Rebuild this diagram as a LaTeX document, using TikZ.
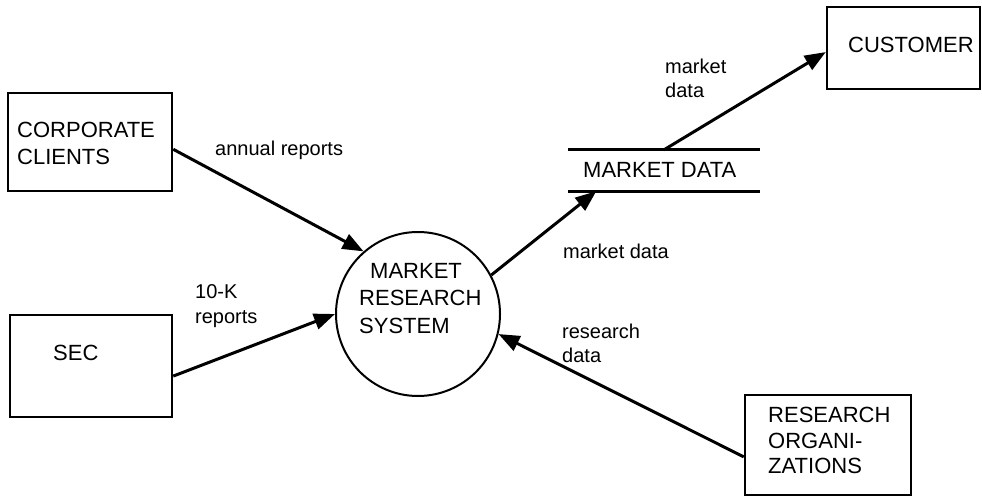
\documentclass[tikz,border=0pt]{standalone}
\usepackage{fontspec}
\setmainfont{Liberation Sans}
\usetikzlibrary{arrows.meta}
\begin{document}
\begin{tikzpicture}[x=1pt,y=-1pt,
  ext/.style={draw,line width=2.5pt,inner sep=0pt},
  nodetext/.style={inner sep=0pt,anchor=north west,align=left,font=\fontsize{22}{26.5}\selectfont},
  lbl/.style={inner sep=0pt,anchor=north west,align=left,font=\fontsize{20}{24.5}\selectfont},
  flow/.style={line width=3pt,-{Triangle[length=21pt,width=16pt]}}]
\useasboundingbox (0,0) rectangle (982,497);
% external entities
\node[ext,minimum width=164pt,minimum height=98pt] (cc) at (90,142) {};
\node[ext,minimum width=162pt,minimum height=102pt] (sec) at (91,366) {};
\node[ext,minimum width=153pt,minimum height=82pt] (cust) at (903.5,48) {};
\node[ext,minimum width=166pt,minimum height=100pt] (ro) at (828,445) {};
% process
\node[draw,circle,line width=2pt,minimum size=164pt,inner sep=0pt] (mrs) at (418,314) {};
% data store
\node[inner sep=0pt,minimum width=192pt,minimum height=41pt] (store) at (664,170.5) {};
\draw[line width=3pt] (store.north west) -- (store.north east);
\draw[line width=3pt] (store.south west) -- (store.south east);
% texts
\node[nodetext] (tcc) at (17,122) {CORPORATE\\CLIENTS};
\node[nodetext] (tsec) at (53,345) {SEC};
\node[nodetext] (tcust) at (848,37) {CUSTOMER};
\node[nodetext,font=\fontsize{22}{25.7}\selectfont] (tro) at (768,407) {RESEARCH\\ORGANI-\\ZATIONS};
\node[nodetext] (tstore) at (583,162) {MARKET DATA};
\node[nodetext,font=\fontsize{22}{27.5}\selectfont] (tmrs) at (359,263) {\hspace*{11pt}MARKET\\RESEARCH\\SYSTEM};
% labels
\node[lbl] (l1) at (215,141) {annual reports};
\node[lbl,font=\fontsize{20}{25}\selectfont] (l2) at (195,284) {10-K\\reports};
\node[lbl] (l3) at (563,244) {market data};
\node[lbl,font=\fontsize{20}{24}\selectfont] (l4) at (665,59) {market\\data};
\node[lbl,font=\fontsize{20}{23.5}\selectfont] (l5) at (562,324) {research\\data};
% flows
\draw[flow] (cc.-5.6) -- (mrs.131);
\draw[flow] (sec.-7) -- (mrs.180);
\draw[flow] (mrs.28) -- (store.197);
\draw[flow] (store.north) -- (cust.183.6);
\draw[flow] (ro.188.2) -- (mrs.-14);
\end{tikzpicture}
\end{document}
